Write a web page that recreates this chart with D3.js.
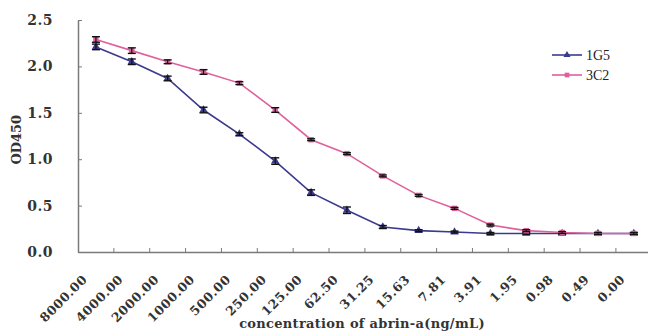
<!DOCTYPE html>
<html>
<head>
<meta charset="utf-8">
<script src="https://cdn.jsdelivr.net/npm/d3@7"></script>
<style>
  body { margin: 0; background: #fff; }
  svg { display: block; }
</style>
</head>
<body>
<svg id="chart" width="648" height="334"></svg>
<script>
const categories = ['8000.00', '4000.00', '2000.00', '1000.00', '500.00', '250.00', '125.00', '62.50',
  '31.25', '15.63', '7.81', '3.91', '1.95', '0.98', '0.49', '0.00']
const g1G5 = [2.21, 2.05, 1.87, 1.53, 1.27, 0.98, 0.64, 0.45, 0.27, 0.23, 0.215, 0.20, 0.20, 0.20, 0.20, 0.20]
const g1G5err = [0.03, 0.03, 0.025, 0.03, 0.015, 0.035, 0.03, 0.035, 0.015, 0.01, 0.01, 0.01, 0.01, 0.01, 0.01, 0.01]
const g3C2 = [2.29, 2.17, 2.05, 1.94, 1.82, 1.53, 1.21, 1.06, 0.82, 0.61, 0.47, 0.29, 0.23, 0.21, 0.20, 0.20]
const g3C2err = [0.03, 0.03, 0.02, 0.025, 0.015, 0.025, 0.01, 0.01, 0.01, 0.01, 0.01, 0.01, 0.01, 0.01, 0.01, 0.01]
const yTicks = [0, 0.5, 1.0, 1.5, 2.0, 2.5]

const series = [
  { name: '1G5', values: g1G5, err: g1G5err, color: '#3b3a8e', shape: d3.symbolTriangle },
  { name: '3C2', values: g3C2, err: g3C2err, color: '#e0609c', shape: d3.symbolSquare }
]

const svg = d3.select('#chart')
const margin = { left: 78, top: 20, bottom: 82 }
const height = 334

const x = d3.scaleBand()
  .domain(categories)
  .range([margin.left, margin.left + 35.86 * categories.length])

const y = d3.scaleLinear()
  .domain([0, 2.5])
  .range([height - margin.bottom, margin.top])

const axisColor = '#7a7a7a'
const serif = '"DejaVu Serif", "Liberation Serif", serif'

// y axis
const yAxis = d3.axisLeft(y)
  .tickValues(yTicks)
  .tickSizeInner(-4)
  .tickSizeOuter(0)
  .tickPadding(25)
  .tickFormat(d3.format('.1f'))

svg.append('g')
  .attr('transform', `translate(${margin.left},0)`)
  .call(yAxis)
  .call(g => {
    g.select('.domain').attr('stroke', axisColor).attr('stroke-width', 1.5)
    g.selectAll('.tick line').attr('stroke', axisColor)
    g.selectAll('.tick text')
      .style('font-family', serif)
      .style('font-weight', 'bold')
      .style('font-size', '14px')
      .style('letter-spacing', '0.5px')
      .attr('fill', '#333')
  })

// x axis, ticks between categories
svg.append('g')
  .attr('transform', `translate(0,${y(0)})`)
  .call(d3.axisBottom(x).tickSize(0).tickFormat(''))
  .call(g => {
    g.select('.domain').attr('stroke', axisColor).attr('stroke-width', 1.5)
    g.selectAll('.tick').remove()
  })

svg.append('g')
  .selectAll('line')
  .data(categories.slice(1))
  .join('line')
  .attr('x1', d => x(d))
  .attr('x2', d => x(d))
  .attr('y1', y(0))
  .attr('y2', y(0) - 4)
  .attr('stroke', axisColor)

svg.append('g')
  .selectAll('text')
  .data(categories)
  .join('text')
  .attr('transform', d => `translate(${x(d) + x.bandwidth() / 2 - 11},${y(0) + 25}) rotate(-45)`)
  .attr('text-anchor', 'end')
  .attr('dy', '0.35em')
  .style('font-family', serif)
  .style('font-weight', 'bold')
  .style('font-size', '12.5px')
  .style('letter-spacing', '0.6px')
  .attr('fill', '#333')
  .text(d => d)

// axis titles
svg.append('text')
  .attr('x', 362)
  .attr('y', 328)
  .attr('text-anchor', 'middle')
  .style('font-family', serif)
  .style('font-weight', 'bold')
  .style('font-size', '13px')
  .style('letter-spacing', '0.3px')
  .attr('fill', '#333')
  .text('concentration of abrin-a(ng/mL)')

svg.append('text')
  .attr('transform', `translate(21,${y(1.21)}) rotate(-90)`)
  .attr('text-anchor', 'middle')
  .style('font-family', serif)
  .style('font-weight', 'bold')
  .style('font-size', '13px')
  .attr('fill', '#333')
  .text('OD450')

const cx = i => x(categories[i]) + x.bandwidth() / 2
const line = d3.line()
  .x((d, i) => cx(i))
  .y(d => y(d))

series.forEach(s => {
  const g = svg.append('g')
  g.append('path')
    .datum(s.values)
    .attr('fill', 'none')
    .attr('stroke', s.color)
    .attr('stroke-width', 1.6)
    .attr('d', line)

  g.selectAll('path.mark')
    .data(s.values)
    .join('path')
    .attr('class', 'mark')
    .attr('transform', (d, i) => `translate(${cx(i)},${y(d)})`)
    .attr('d', d3.symbol().type(s.shape).size(30))
    .attr('fill', s.color)

  // error bars
  const eb = g.selectAll('g.err')
    .data(s.values)
    .join('g')
    .attr('class', 'err')
  eb.append('line')
    .attr('x1', (d, i) => cx(i)).attr('x2', (d, i) => cx(i))
    .attr('y1', (d, i) => y(d - s.err[i])).attr('y2', (d, i) => y(d + s.err[i]))
    .attr('stroke', '#111').attr('stroke-width', 1.2)
  ;[-1, 1].forEach(sign => {
    eb.append('line')
      .attr('x1', (d, i) => cx(i) - 4).attr('x2', (d, i) => cx(i) + 4)
      .attr('y1', (d, i) => y(d + sign * s.err[i])).attr('y2', (d, i) => y(d + sign * s.err[i]))
      .attr('stroke', '#111').attr('stroke-width', 1.4)
  })
})

// legend
const legend = svg.append('g').attr('transform', 'translate(552,55)')
series.forEach((s, i) => {
  const row = legend.append('g').attr('transform', `translate(0,${i * 20})`)
  row.append('line').attr('x1', 0).attr('x2', 30).attr('stroke', s.color).attr('stroke-width', 1.6)
  row.append('path')
    .attr('transform', 'translate(15,0)')
    .attr('d', d3.symbol().type(s.shape).size(22))
    .attr('fill', s.color)
  row.append('text')
    .attr('x', 34)
    .attr('dy', '0.35em')
    .style('font-family', '"Liberation Serif", serif')
    .style('font-size', '14px')
    .attr('fill', '#222')
    .text(s.name)
})
</script>
</body>
</html>
